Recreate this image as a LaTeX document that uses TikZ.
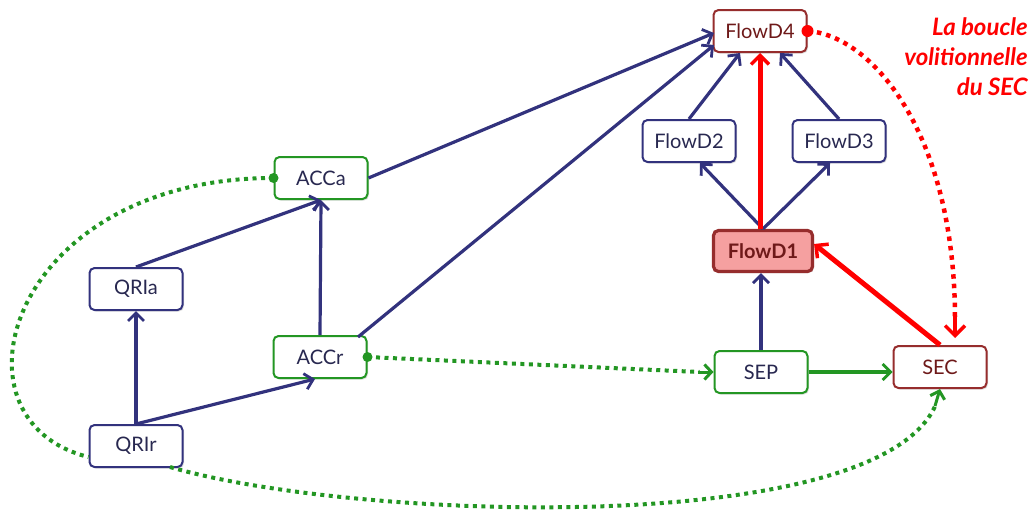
\documentclass[tikz,border=0pt]{standalone}
\usepackage{fontspec}
\setmainfont{Lato}
\usetikzlibrary{arrows.meta,shadows}
\definecolor{navy}{RGB}{50,50,125}
\definecolor{navytext}{RGB}{40,40,80}
\definecolor{grn}{RGB}{35,150,35}
\definecolor{dred}{RGB}{150,45,45}
\definecolor{redtext}{RGB}{110,25,25}
\definecolor{pinkfill}{RGB}{245,160,160}
\tikzset{
  box/.style={draw, rounded corners=5pt, line width=2pt, fill=white,
    minimum width=93pt, minimum height=42pt, font=\fontsize{20}{22}\selectfont,
    inner sep=0pt, drop shadow={opacity=0.25, shadow xshift=1.5pt, shadow yshift=-1.5pt}},
  bluebox/.style={box, draw=navy, text=navytext},
  greenbox/.style={box, draw=grn, text=navytext},
  redbox/.style={box, draw=dred, text=redtext},
  conn/.style={draw=navy, line width=3.2pt, -{Straight Barb[length=8pt,width=16pt,line width=2.8pt]}},
  redconn/.style={draw=red, line width=5pt, -{Straight Barb[length=9pt,width=18pt,line width=3.5pt]}},
  greenconn/.style={draw=grn, line width=3.2pt, -{Straight Barb[length=8pt,width=16pt,line width=2.8pt]}},
  gdot/.style={draw=grn, line width=4pt, dash pattern=on 4pt off 4.5pt},
  rdot/.style={draw=red, line width=4.5pt, dash pattern=on 4.5pt off 5pt},
}
\begin{document}
\begin{tikzpicture}[x=1pt,y=-1pt]
\useasboundingbox (0,0) rectangle (1030,522);
% nodes
\node[redbox] (D4) at (760,31) {FlowD4};
\node[bluebox] (D2) at (689,141) {FlowD2};
\node[bluebox] (D3) at (839,141) {FlowD3};
\node[box, draw=dred, fill=pinkfill, line width=3.2pt, text=redtext, minimum width=99pt, minimum height=41pt, font=\fontsize{20}{22}\selectfont\bfseries] (D1) at (763,251) {FlowD1};
\node[greenbox] (SEP) at (761,372) {SEP};
\node[redbox] (SEC) at (940,367) {SEC};
\node[greenbox] (ACCa) at (321,178) {ACCa};
\node[bluebox] (QRIa) at (136,289) {QRIa};
\node[greenbox] (ACCr) at (320,357) {ACCr};
\node[bluebox] (QRIr) at (136,446) {QRIr};
\node[text=red, font=\fontsize{24}{30}\selectfont\bfseries\itshape, align=right, anchor=north east, inner sep=0pt] (lbl) at (1028,17) {La boucle\\volitionnelle\\du SEC};
% coordinates
\coordinate (a1) at (714,33);
\coordinate (a2) at (714,45);
\coordinate (r1) at (358,337);
% blue connectors
\draw[conn] (QRIr.north) -- (QRIa.south);
\draw[conn] (QRIr.north) -- ([xshift=-5pt]ACCr.south);
\draw[conn] (QRIa.north) -- (ACCa.south);
\draw[conn] (ACCr.north) -- (ACCa.south);
\draw[conn] (ACCa.east) -- (a1);
\draw[conn] (r1) -- (a2);
\draw[conn] (D2.north) -- ([xshift=-20pt]D4.south);
\draw[conn] (D3.north) -- ([xshift=20pt]D4.south);
\draw[conn] (D1.north) -- ([xshift=11pt]D2.south);
\draw[conn] (D1.north) -- ([xshift=-9pt]D3.south);
\draw[conn] (SEP.north) -- (D1.south -| SEP.north);
% red connectors
\draw[redconn] (D1.north -| D4.south) -- (D4.south);
\draw[redconn] (SEC.north) -- ([yshift=7pt]D1.east);
% green solid
\draw[greenconn] (SEP.east) -- (SEP.east -| SEC.west);
% dotted
\draw[rdot] (D4.east) .. controls (870,35) and (955,130) .. (955,320);
\draw[draw=red, line width=4pt, -{Straight Barb[length=10pt,width=20pt,line width=3.5pt]}] (955,316) -- (955,338);
\fill[red] (D4.east) circle (6pt);
\draw[gdot] (ACCr.east) -- ([xshift=-14pt]SEP.west);
\draw[draw=grn, line width=3pt, -{Straight Barb[length=7pt,width=15pt,line width=3pt]}] ([xshift=-16pt]SEP.west) -- (SEP.west);
\fill[grn] (ACCr.east) circle (5pt);
\draw[gdot] (ACCa.west) .. controls (10,178) and (-60,420) .. ([yshift=-11pt]QRIr.west);
\fill[grn] (ACCa.west) circle (5pt);
\draw[gdot] (170,467) .. controls (350,520) and (880,540) .. (936,404);
\draw[draw=grn, line width=3pt, -{Straight Barb[length=7pt,width=15pt,line width=3pt]}] (935,406) -- (SEC.south);
\end{tikzpicture}
\end{document}
